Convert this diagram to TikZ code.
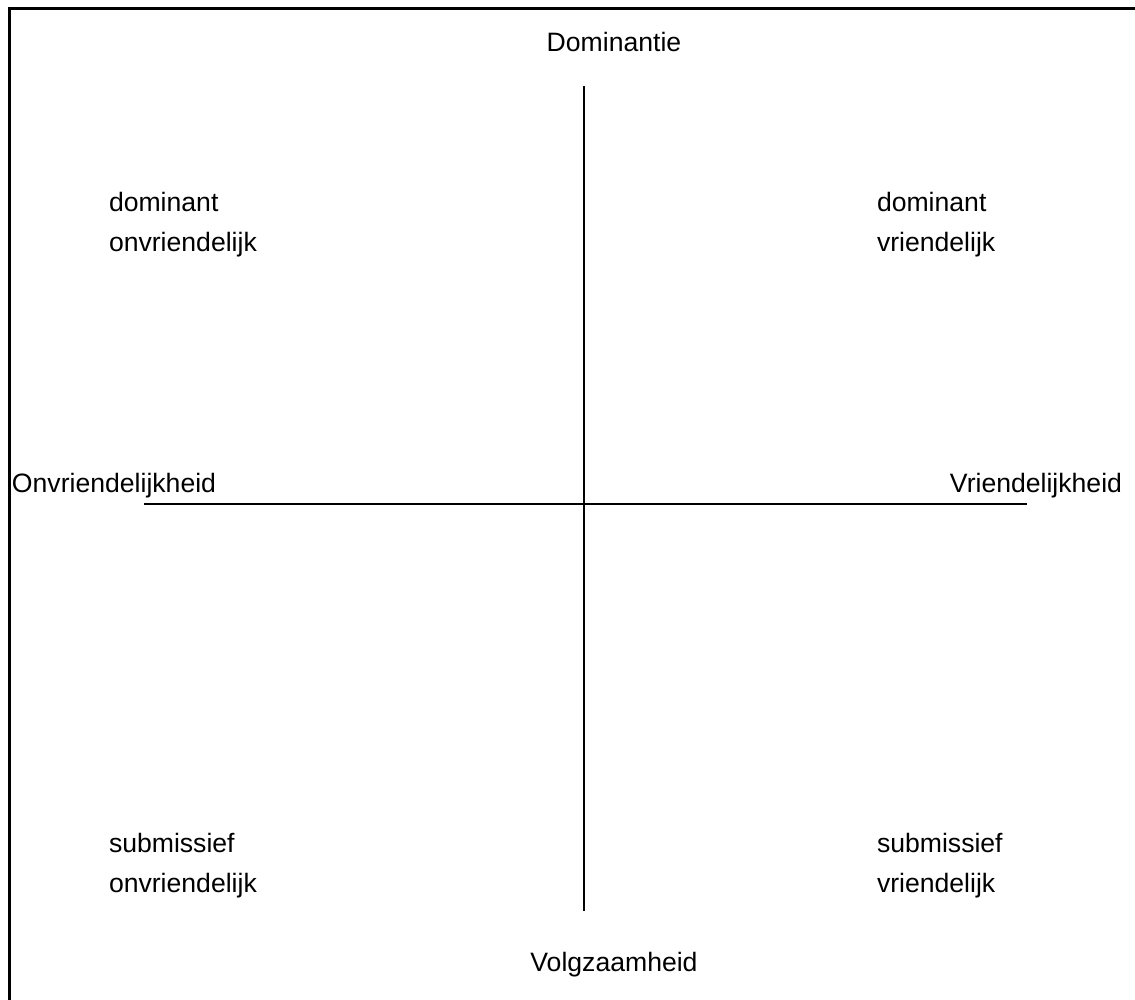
\documentclass[tikz,border=0pt]{standalone}
\usepackage{fontspec}
\setmainfont{Liberation Sans}
\begin{document}
\begin{tikzpicture}[x=1pt,y=-1pt,
  lbl/.style={inner sep=0pt,outer sep=0pt,font=\fontsize{26.6}{40}\selectfont},
  axis/.style={line width=2pt,black},
  frame/.style={line width=3pt,black}]
\useasboundingbox (0,0) rectangle (1135,1000);
\draw[frame] (9.5,1001) -- (9.5,9) -- (1136,9);
% axes
\coordinate (top) at (584,86);
\coordinate (bot) at (584,911);
\coordinate (lft) at (144,504);
\coordinate (rgt) at (1027,504);
\draw[axis] (top) -- (bot);
\draw[axis] (lft) -- (rgt);
% axis labels
\node[lbl,anchor=base] (dom) at (614,52) {Dominantie};
\node[lbl,anchor=base] (volg) at (614,971) {Volgzaamheid};
\node[lbl,anchor=base west] (onvr) at (12,492) {Onvriendelijkheid};
\node[lbl,anchor=base east] (vr) at (1122,492) {Vriendelijkheid};
% quadrant labels
\node[lbl,anchor=base west] (dom1) at (109,212) {dominant};
\node[lbl,anchor=base west] (onv1) at (109,252) {onvriendelijk};
\node[lbl,anchor=base west] (dom2) at (877,212) {dominant};
\node[lbl,anchor=base west] (vr2) at (877,252) {vriendelijk};
\node[lbl,anchor=base west] (sub1) at (109,852) {submissief};
\node[lbl,anchor=base west] (onv3) at (109,892) {onvriendelijk};
\node[lbl,anchor=base west] (sub2) at (877,852) {submissief};
\node[lbl,anchor=base west] (vr4) at (877,892) {vriendelijk};
\end{tikzpicture}
\end{document}
